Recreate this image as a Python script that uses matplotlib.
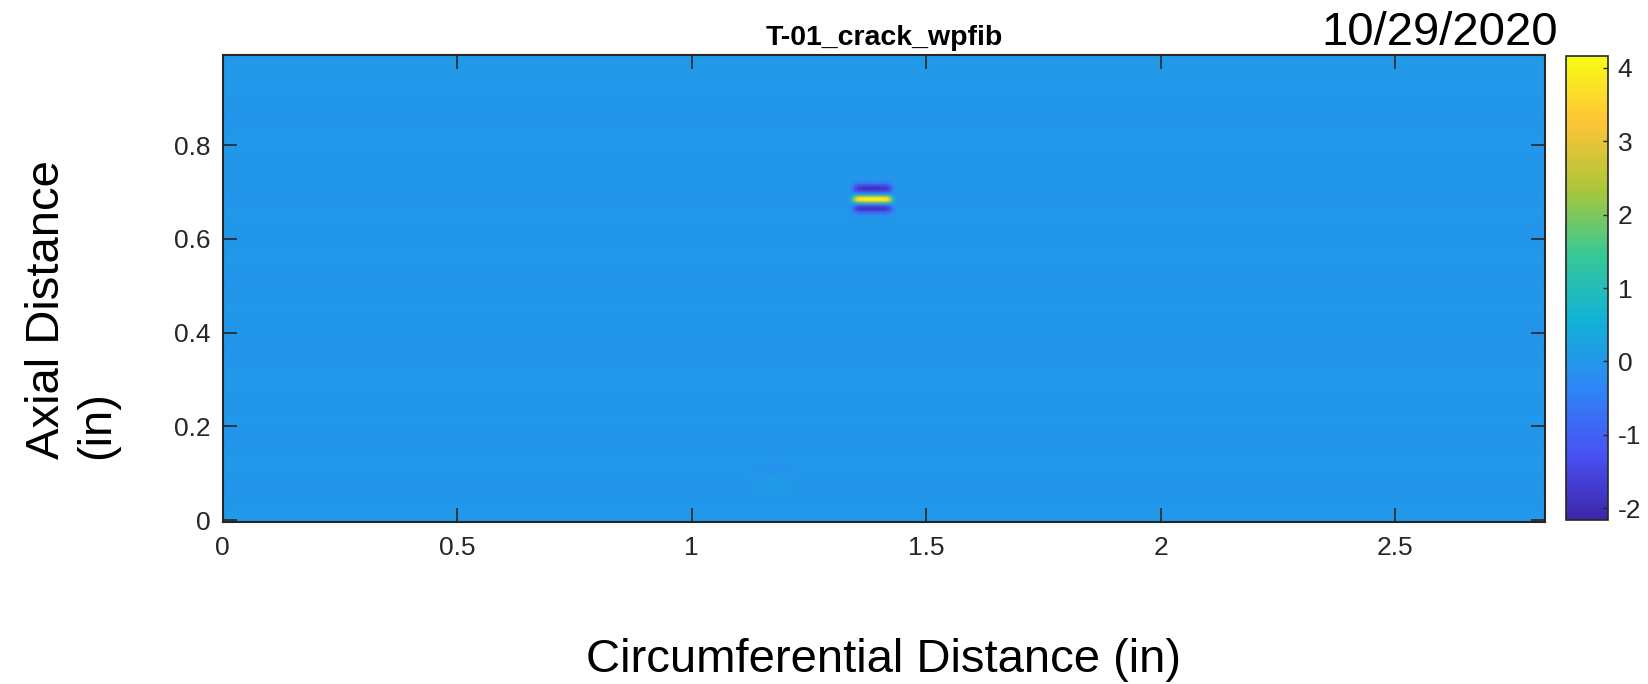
import numpy as np
import matplotlib
matplotlib.use("Agg")
import matplotlib.pyplot as plt
from matplotlib import colors, ticker

plt.rcParams["font.family"] = ["Liberation Sans", "DejaVu Sans"]
plt.rcParams["axes.unicode_minus"] = False

# parula-like anchors (MATLAB default map)
PARULA_ANCHORS = [
    (0.2422, 0.1504, 0.6603),
    (0.2810, 0.3228, 0.9579),
    (0.1786, 0.5289, 0.9682),
    (0.0689, 0.6948, 0.8394),
    (0.2161, 0.7843, 0.5923),
    (0.6720, 0.7793, 0.2227),
    (0.9970, 0.7659, 0.2199),
    (0.9769, 0.9839, 0.0805),
]

scan_title = "T-01_crack_wpfib"
scan_date = "10/29/2020"

# scan extent (in)
scan_width = 2.82
scan_bottom = -0.004
scan_height = 0.9925
value_min = -2.16
value_max = 4.16

# baseline of each scan row, bottom to top (every 0.03 in)
background_level = [
    0.02, 0.00, -0.03, 0.01, 0.03, -0.02, 0.00, 0.02, -0.01, 0.01,
    0.03, 0.00, -0.02, 0.01, -0.01, 0.02, 0.00, -0.02, 0.01, 0.02,
    -0.01, 0.00, 0.02, -0.02, 0.01, 0.00, -0.01, 0.02, 0.01, -0.02,
    0.00, 0.03, 0.04, 0.05,
]

# crack indication: axial profile times circumferential envelope
crack_y = [0.645, 0.652, 0.659, 0.664, 0.669, 0.674, 0.679, 0.683, 0.686,
           0.689, 0.693, 0.698, 0.703, 0.708, 0.713, 0.719, 0.726, 0.733]
crack_y_profile = [0.0, -0.2, -1.2, -1.9, -1.6, -0.3, 2.0, 3.8, 4.1,
                   3.6, 1.5, -0.4, -1.5, -1.95, -1.6, -0.6, -0.1, 0.0]
crack_x = [1.336, 1.343, 1.350, 1.357, 1.370, 1.400, 1.415, 1.422, 1.429, 1.436]
crack_x_profile = [0.0, 0.3, 0.75, 0.95, 1.0, 1.0, 0.95, 0.75, 0.3, 0.0]

# faint blemish near the bottom of the scan
spot_x = [1.12, 1.15, 1.17, 1.19, 1.22]
spot_y = [0.05, 0.075, 0.09, 0.105, 0.13]
spot_values = [
    [0.0, 0.0, 0.0, 0.0, 0.0],
    [0.0, 0.10, 0.15, 0.10, 0.0],
    [0.0, 0.05, 0.05, 0.05, 0.0],
    [0.0, -0.08, -0.12, -0.08, 0.0],
    [0.0, 0.0, 0.0, 0.0, 0.0],
]

AXIS_COLOR = (0.15, 0.15, 0.15)

cmap = colors.LinearSegmentedColormap.from_list("parula", PARULA_ANCHORS, N=256)
norm = colors.Normalize(vmin=value_min, vmax=value_max)

fig = plt.figure(figsize=(16.48, 6.84), dpi=100)
ax = fig.add_axes([0.1352, 0.2368, 0.8023, 0.6827])

background = np.array(background_level).reshape(-1, 1)
im = ax.imshow(
    background,
    cmap=cmap,
    norm=norm,
    origin="lower",
    extent=[0, scan_width, scan_bottom, scan_height],
    aspect="auto",
    interpolation="bilinear",
)

crack = np.outer(crack_y_profile, crack_x_profile)
ax.pcolormesh(crack_x, crack_y, crack, cmap=cmap, norm=norm, shading="gouraud")
ax.pcolormesh(spot_x, spot_y, np.array(spot_values), cmap=cmap, norm=norm, shading="gouraud")

ax.set_xlim(0, scan_width)
ax.set_ylim(scan_bottom, scan_height)
ax.set_xticks([0, 0.5, 1, 1.5, 2, 2.5])
ax.set_yticks([0, 0.2, 0.4, 0.6, 0.8])
ax.xaxis.set_major_formatter(ticker.FormatStrFormatter("%g"))
ax.yaxis.set_major_formatter(ticker.FormatStrFormatter("%g"))
ax.tick_params(direction="in", top=True, right=True, length=10, width=1.2,
               colors=AXIS_COLOR, labelsize=19)
ax.tick_params(axis="x", pad=10)
ax.tick_params(axis="y", pad=9)
for spine in ax.spines.values():
    spine.set_linewidth(1.5)
    spine.set_color(AXIS_COLOR)

ax.set_title(scan_title, fontsize=20.5, fontweight="bold", pad=7)
ax.set_xlabel("Circumferential Distance (in)", fontsize=34, va="center")
ax.xaxis.set_label_coords(0.5, -0.2955)
ax.set_ylabel("Axial Distance\n(in)", fontsize=34, ha="center", va="center",
              multialignment="left")
ax.yaxis.set_label_coords(-0.114, 0.454)

fig.text(1558 / 1648, 1 - 45 / 684, scan_date, fontsize=34, ha="right", va="baseline")

cax = fig.add_axes([0.9502, 0.2398, 0.0255, 0.678])
cbar = fig.colorbar(im, cax=cax, ticks=range(-2, 5))
cbar.ax.tick_params(direction="in", length=3.6, width=1, colors=AXIS_COLOR,
                    labelsize=19, pad=7)
cbar.outline.set_linewidth(1.2)
cbar.outline.set_edgecolor(AXIS_COLOR)

fig.savefig("out.png", dpi=100)
